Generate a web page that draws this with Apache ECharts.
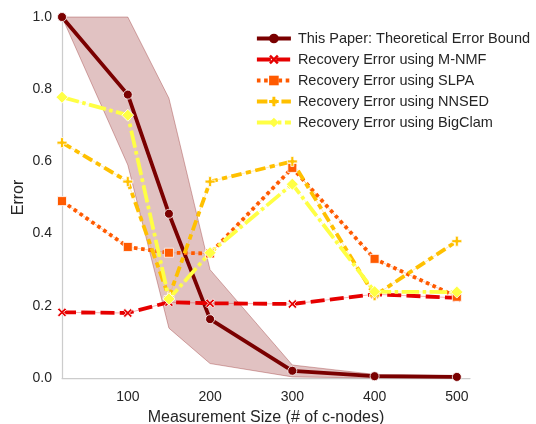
<!DOCTYPE html>
<html><head><meta charset="utf-8">
<script src="https://cdn.jsdelivr.net/npm/echarts@6/dist/echarts.min.js"></script>
<style>html,body{margin:0;padding:0;background:#fff}#c{width:536px;height:424px}</style>
</head><body><div id="c"></div>
<script>
const xs = [20, 100, 150, 200, 300, 400, 500];
const xTicks = [100, 200, 300, 400, 500];
const theory = [1.0, 0.785, 0.455, 0.163, 0.02, 0.005, 0.003];
const theoryUpper = [1.0, 1.0, 0.775, 0.30, 0.036, 0.01, 0.006];
const theoryLower = [1.0, 0.59, 0.138, 0.04, 0.003, 0.0, 0.0];
const mnmf = [0.182, 0.18, 0.21, 0.207, 0.205, 0.232, 0.222];
const slpa = [0.49, 0.363, 0.347, 0.345, 0.582, 0.33, 0.225];
const nnsed = [0.652, 0.544, 0.224, 0.544, 0.6, 0.228, 0.379];
const bigclam = [0.778, 0.728, 0.219, 0.347, 0.537, 0.239, 0.238];
const names = ['This Paper: Theoretical Error Bound','Recovery Error using M-NMF','Recovery Error using SLPA','Recovery Error using NNSED','Recovery Error using BigClam'];

const pair = arr => xs.map((x, i) => [x, arr[i]]);
const FONT = '"Liberation Sans", Arial, sans-serif';
const X_SYM = 'path://M1.8,0 L5,3.2 L8.2,0 L10,1.8 L6.8,5 L10,8.2 L8.2,10 L5,6.8 L1.8,10 L0,8.2 L3.2,5 L0,1.8 Z';
const P_SYM = 'path://M3.5,0 H6.5 V3.5 H10 V6.5 H6.5 V10 H3.5 V6.5 H0 V3.5 H3.5 Z';
const colors = ['#7a0000', '#e60000', '#ff5a00', '#ffc000', '#ffff44'];
const dashes = ['solid', [14, 5.25], [3.6, 3.6], [10.5, 4.4, 5.25, 4.4], [17.5, 3.5, 3.5, 3.5]];
const symbols = ['circle', X_SYM, 'rect', P_SYM, 'diamond'];

function mainLine(k, data, size) {
  const color = colors[k];
  return {
    name: names[k], type: 'line', data: pair(data), clip: false,
    symbol: symbols[k], symbolSize: size, showAllSymbol: true,
    lineStyle: { color, width: 3.8, type: dashes[k], cap: 'butt' },
    itemStyle: { color, borderColor: '#fff', borderWidth: 0.8 },
    emphasis: { disabled: true }, z: 3
  };
}
function faint(k, data) {
  return {
    name: names[k] + ' band', type: 'line', data: pair(data), clip: false,
    symbol: 'none', lineStyle: { color: colors[k], width: 1, opacity: 0.3 },
    emphasis: { disabled: true }, silent: true, z: 2
  };
}

const chart = echarts.init(document.getElementById('c'), null, { renderer: 'canvas' });
chart.setOption({
  backgroundColor: '#fff',
  animation: false,
  textStyle: { fontFamily: FONT },
  grid: { left: 62, right: 66, top: 17, bottom: 46, outerBoundsMode: 'none', containLabel: false },
  legend: {
    data: names.map((n, k) => ({
      name: n,
      itemStyle: { color: colors[k], borderWidth: 0 },
      lineStyle: { color: colors[k], width: 3.8, type: dashes[k], cap: 'butt' }
    })),
    left: 250, top: 26, orient: 'vertical',
    itemWidth: 34, itemHeight: 12, itemGap: 6,
    textStyle: { fontFamily: FONT, fontSize: 14.5, color: '#262626', padding: [0, 0, 0, 2], lineHeight: 14 }
  },
  xAxis: {
    type: 'value', min: 20, max: 516,
    name: 'Measurement Size (# of c-nodes)', nameLocation: 'middle', nameGap: 32, nameMoveOverlap: false,
    nameTextStyle: { fontFamily: FONT, fontSize: 16, color: '#262626' },
    axisLine: { show: true, lineStyle: { color: '#cccccc', width: 1.25 } },
    axisTick: { show: false },
    splitLine: { show: false },
    axisLabel: { customValues: xTicks, fontFamily: FONT, fontSize: 14, color: '#262626', margin: 12 }
  },
  yAxis: {
    type: 'value', min: 0, max: 1.0, interval: 0.2,
    name: 'Error', nameLocation: 'middle', nameGap: 35, nameMoveOverlap: false,
    nameTextStyle: { fontFamily: FONT, fontSize: 16, color: '#262626' },
    axisLine: { show: true, lineStyle: { color: '#cccccc', width: 1.25 } },
    axisTick: { show: false },
    splitLine: { show: false },
    axisLabel: { fontFamily: FONT, fontSize: 14, color: '#262626', margin: 10, formatter: v => v.toFixed(1) }
  },
  series: [
    {
      name: 'theory band', type: 'custom', silent: true, z: 1, clip: false,
      data: [[xs[0], theoryUpper[0]]],
      renderItem: (params, api) => {
        const pts = [];
        for (let i = 0; i < xs.length; i++) pts.push(api.coord([xs[i], theoryUpper[i]]));
        for (let i = xs.length - 1; i >= 0; i--) pts.push(api.coord([xs[i], theoryLower[i]]));
        return { type: 'polygon', shape: { points: pts },
          style: { fill: 'rgba(128,0,0,0.24)', stroke: 'rgba(128,0,0,0.3)', lineWidth: 1 } };
      }
    },
    mainLine(0, theory, 9),
    faint(1, mnmf),
    mainLine(1, mnmf, 9),
    faint(2, slpa),
    mainLine(2, slpa, 9),
    faint(3, nnsed),
    mainLine(3, nnsed, 10),
    faint(4, bigclam),
    mainLine(4, bigclam, 12)
  ]
});
</script></body></html>
